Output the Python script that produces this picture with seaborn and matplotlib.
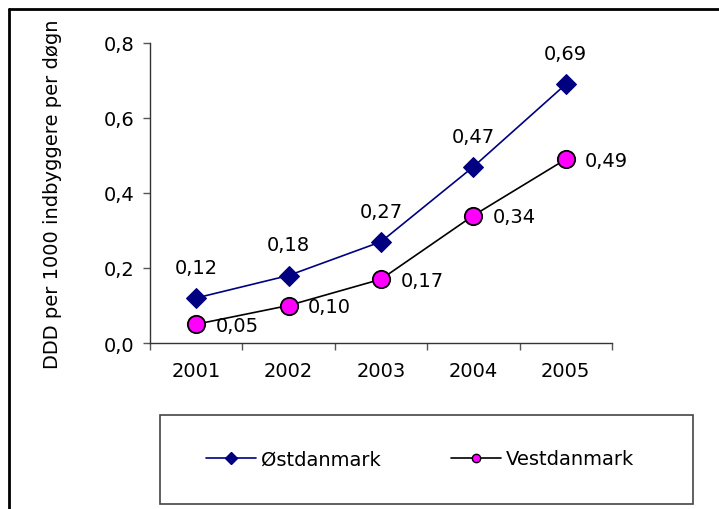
import matplotlib
matplotlib.use("Agg")
import matplotlib.pyplot as plt
from matplotlib.lines import Line2D
from matplotlib.patches import Rectangle
import seaborn as sns

# data
years = ["2001", "2002", "2003", "2004", "2005"]
ost = [0.12, 0.18, 0.27, 0.47, 0.69]
vest = [0.05, 0.10, 0.17, 0.34, 0.49]
ost_labels = ["0,12", "0,18", "0,27", "0,47", "0,69"]
vest_labels = ["0,05", "0,10", "0,17", "0,34", "0,49"]
y_ticks = [0.0, 0.2, 0.4, 0.6, 0.8]
y_tick_labels = ["0,0", "0,2", "0,4", "0,6", "0,8"]

NAVY = "#000080"
MAGENTA = "#FF00FF"
FS = 14

sns.set_theme(style="white")
plt.rcParams["font.family"] = ["DejaVu Sans"]
plt.rcParams["text.color"] = "black"
plt.rcParams["axes.labelcolor"] = "black"
plt.rcParams["xtick.color"] = "black"
plt.rcParams["ytick.color"] = "black"

W, H = 719, 510
fig = plt.figure(figsize=(W / 100, H / 100), dpi=100)
ax = fig.add_axes([150 / W, 1 - 344 / H, 462 / W, 300 / H])

sns.lineplot(x=years, y=ost, ax=ax, color=NAVY, lw=1.2, marker="D",
             markersize=10, markeredgecolor=NAVY, markerfacecolor=NAVY)
sns.lineplot(x=years, y=vest, ax=ax, color="black", lw=1.2, marker="o",
             markersize=12.5, markeredgecolor="black", markerfacecolor=MAGENTA,
             markeredgewidth=1.3)

for i, (v, t) in enumerate(zip(ost, ost_labels)):
    ax.annotate(t, (i, v), xytext=(0, 22), textcoords="offset points",
                ha="center", va="center", fontsize=FS, color="black")
for i, (v, t) in enumerate(zip(vest, vest_labels)):
    ax.annotate(t, (i, v), xytext=(14, -1), textcoords="offset points",
                ha="left", va="center", fontsize=FS, color="black")

ax.set_xlim(-0.5, 4.5)
ax.set_ylim(0, 0.8)
ax.set_yticks(y_ticks)
ax.set_yticklabels(y_tick_labels, fontsize=FS)
ax.set_xticks(range(len(years)))
ax.set_xticklabels(years, fontsize=FS)
ax.set_xticks([i - 0.5 for i in range(len(years) + 1)], minor=True)
ax.tick_params(axis="x", which="major", length=0, pad=13)
ax.tick_params(axis="x", which="minor", length=5, width=1, color="#555555",
               direction="out", bottom=True)
ax.tick_params(axis="y", length=5, width=1, color="#555555", direction="out",
               left=True, pad=6, labelcolor="black")
ax.tick_params(axis="x", labelcolor="black")

for s in ["top", "right"]:
    ax.spines[s].set_visible(False)
for s in ["left", "bottom"]:
    ax.spines[s].set_color("#333333")
    ax.spines[s].set_linewidth(1)

ax.set_ylabel("DDD per 1000 indbyggere per døgn", fontsize=FS, color="black")
ax.yaxis.set_label_coords((62 - 150) / 462, 0.5)
ax.set_xlabel("")

# legend box
fig.patches.append(Rectangle((160 / W, 1 - 505 / H), (693 - 160) / W,
                             (505 - 416) / H, transform=fig.transFigure,
                             fill=False, edgecolor="#444444", lw=1.2))
handles = [
    Line2D([], [], color=NAVY, lw=1.2, marker="D", markersize=6,
           markerfacecolor=NAVY, markeredgecolor=NAVY),
    Line2D([], [], color="black", lw=1.2, marker="o", markersize=6,
           markerfacecolor=MAGENTA, markeredgecolor="black"),
]
fig.legend(handles, ["Østdanmark", "Vestdanmark"], loc="center",
           bbox_to_anchor=(420 / W, 1 - 460 / H), ncol=2, frameon=False,
           fontsize=FS, handlelength=2.6, handletextpad=0.25,
           columnspacing=3.6)

# outer border (top and left visible)
fig.add_artist(Line2D([9 / W, 9 / W], [0, 1 - 10 / H], transform=fig.transFigure,
                      color="black", lw=2))
fig.add_artist(Line2D([9 / W, 1], [1 - 10 / H, 1 - 10 / H],
                      transform=fig.transFigure, color="black", lw=2))

fig.savefig("out.png", dpi=100)
